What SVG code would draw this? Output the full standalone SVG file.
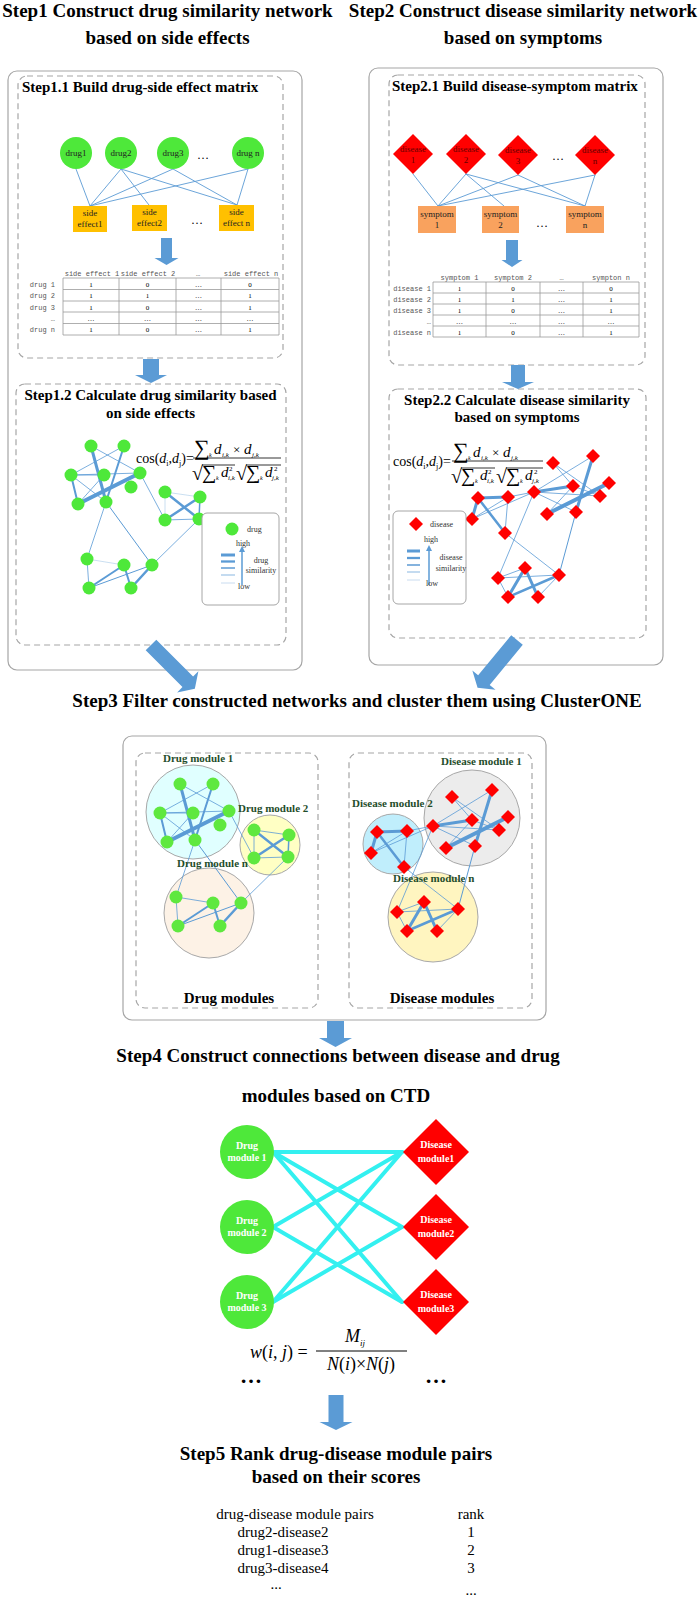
<svg xmlns="http://www.w3.org/2000/svg" width="700" height="1597" viewBox="0 0 700 1597">
<style>
text{font-family:"Liberation Serif","Times New Roman",serif;fill:#000}
.box{fill:none;stroke:#a6a6a6;stroke-width:1.2}
.dash{fill:none;stroke:#a6a6a6;stroke-width:1.2;stroke-dasharray:6 4}
.title{font-weight:bold;font-size:19px;text-anchor:middle}
.sub{font-weight:bold;font-size:15px}
.arrow{fill:#5b9bd5}
.gn{fill:#4ee83a}
.rd{fill:#ff0000}
.e{stroke:#5b9bd5;fill:none;stroke-linecap:round}
.lt{stroke:#bdd7ee}
.lbl{font-size:9px;text-anchor:middle;fill:#222}
.dl{font-size:9px;text-anchor:middle;fill:#600}
.mono{font-family:"Liberation Mono","DejaVu Sans Mono",monospace;font-size:7px;fill:#555;text-anchor:middle}
.rowl{font-family:"Liberation Mono","DejaVu Sans Mono",monospace;font-size:7px;fill:#555;text-anchor:end}
.grid{stroke:#9a9a9a;stroke-width:0.8;fill:none}
.mod{font-weight:bold;font-size:11px;fill:#1f4d2b}
.wt{font-weight:bold;font-size:10px;fill:#fff;text-anchor:middle}
.cy{stroke:#33f0f0;stroke-width:4;stroke-linecap:round}
.it{font-style:italic}
.leg{font-size:8px;fill:#333}
.tb{font-size:15px;text-anchor:middle}
.sg{font-size:22px}
.sgd{font-size:20px}
</style>
<defs>
<polygon id="diag" points="0,-7.5 52,-7.5 52,-15 62,0 52,15 52,7.5 0,7.5"/>
</defs>

<g id="titles">
<text class="title" x="167.5" y="17">Step1 Construct drug similarity network</text>
<text class="title" x="167.5" y="44">based on side effects</text>
<text class="title" x="523" y="17">Step2 Construct disease similarity network</text>
<text class="title" x="523" y="44">based on symptoms</text>
<text class="title" x="357" y="707">Step3 Filter constructed networks and cluster them using ClusterONE</text>
<text class="title" x="338" y="1062">Step4 Construct connections between disease and drug</text>
<text class="title" x="336" y="1102">modules based on CTD</text>
<text class="title" x="336" y="1460">Step5 Rank drug-disease module pairs</text>
<text class="title" x="336" y="1483">based on their scores</text>
</g>

<g id="frames">
<rect class="box" x="8" y="71" width="294" height="599" rx="9"/>
<rect class="dash" x="18" y="76" width="265" height="282" rx="9"/>
<rect class="dash" x="16" y="384" width="270" height="261" rx="9"/>
<rect class="box" x="369" y="68" width="294" height="597" rx="9"/>
<rect class="dash" x="389" y="75" width="256" height="290" rx="9"/>
<rect class="dash" x="389" y="389" width="257" height="249" rx="9"/>
<rect class="box" x="123" y="736" width="423" height="284" rx="9"/>
<rect class="dash" x="136" y="753" width="182" height="255" rx="9"/>
<rect class="dash" x="349" y="753" width="183" height="255" rx="9"/>
<text class="sub" x="22" y="92">Step1.1 Build drug-side effect matrix</text>
<text class="sub" x="150.5" y="400" text-anchor="middle">Step1.2 Calculate drug similarity based</text>
<text class="sub" x="150.5" y="418" text-anchor="middle">on side effects</text>
<text class="sub" x="392" y="91">Step2.1 Build disease-symptom matrix</text>
<text class="sub" x="517" y="405" text-anchor="middle">Step2.2 Calculate disease similarity</text>
<text class="sub" x="517" y="422" text-anchor="middle">based on symptoms</text>
<text class="sub" x="229" y="1003" text-anchor="middle">Drug modules</text>
<text class="sub" x="442" y="1003" text-anchor="middle">Disease modules</text>
</g>

<g id="connectors">
<g class="e" stroke-width="0.9">
<line x1="76" y1="169" x2="90" y2="206"/>
<line x1="121" y1="169" x2="90" y2="206"/>
<line x1="121" y1="169" x2="149" y2="205"/>
<line x1="121" y1="169" x2="237" y2="205"/>
<line x1="173" y1="169" x2="90" y2="206"/>
<line x1="173" y1="169" x2="237" y2="205"/>
<line x1="248" y1="169" x2="90" y2="206"/>
<line x1="248" y1="169" x2="237" y2="205"/>
</g>
<g class="e" stroke-width="0.9">
<line x1="413" y1="174" x2="438" y2="206"/>
<line x1="466" y1="174" x2="438" y2="206"/>
<line x1="466" y1="174" x2="504" y2="206"/>
<line x1="466" y1="174" x2="585" y2="206"/>
<line x1="518" y1="175" x2="438" y2="206"/>
<line x1="518" y1="175" x2="585" y2="206"/>
<line x1="595" y1="175" x2="438" y2="206"/>
<line x1="595" y1="175" x2="585" y2="206"/>
</g>
<g>
<line class="cy" x1="273" y1="1152" x2="402" y2="1152"/>
<line class="cy" x1="273" y1="1152" x2="402" y2="1227"/>
<line class="cy" x1="273" y1="1152" x2="402" y2="1302"/>
<line class="cy" x1="273" y1="1227" x2="402" y2="1152"/>
<line class="cy" x1="273" y1="1227" x2="402" y2="1302"/>
<line class="cy" x1="273" y1="1302" x2="402" y2="1152"/>
<line class="cy" x1="273" y1="1302" x2="402" y2="1227"/>
</g>
<polygon class="arrow" points="161,238 172,238 172,258 178.5,258 166.5,265 154.5,258 161,258"/>
<polygon class="arrow" points="143,359 159,359 159,375 167,375 151,383 135,375 143,375"/>
<polygon class="arrow" points="506,240 518,240 518,260 522.5,260 512,267 501.5,260 506,260"/>
<polygon class="arrow" points="511,365 525,365 525,382 534,382 518,389 502,382 511,382"/>
<polygon class="arrow" points="327,1021 344,1021 344,1038 352,1038 335.5,1047 319,1038 327,1038"/>
<polygon class="arrow" points="328.5,1395 343.5,1395 343.5,1422 352.5,1422 336,1430 319.5,1422 328.5,1422"/>
<use href="#diag" class="arrow" transform="translate(151,645) rotate(45)"/>
<use href="#diag" class="arrow" transform="translate(517,640) rotate(129.5)"/>
</g>

<g id="drug1"><circle class="gn" cx="76" cy="153" r="16"/><text class="lbl" x="76" y="156">drug1</text></g>
<g id="drug2"><circle class="gn" cx="121" cy="153" r="16"/><text class="lbl" x="121" y="156">drug2</text></g>
<g id="drug3"><circle class="gn" cx="173" cy="153" r="16"/><text class="lbl" x="173" y="156">drug3</text></g>
<g id="drugn"><circle class="gn" cx="248" cy="153" r="16"/><text class="lbl" x="248" y="156">drug n</text></g>
<text x="203" y="159" font-size="12" text-anchor="middle">…</text>
<g id="se1"><rect x="73" y="206" width="34" height="26" fill="#ffc000"/><text class="lbl" x="90" y="216">side</text><text class="lbl" x="90" y="227">effect1</text></g>
<g id="se2"><rect x="132" y="205" width="35" height="26" fill="#ffc000"/><text class="lbl" x="149.5" y="215">side</text><text class="lbl" x="149.5" y="226">effect2</text></g>
<g id="sen"><rect x="219" y="205" width="35" height="26" fill="#ffc000"/><text class="lbl" x="236.5" y="215">side</text><text class="lbl" x="236.5" y="226">effect n</text></g>
<text x="197" y="224" font-size="12" text-anchor="middle">…</text>

<g id="table1">
<text class="mono" x="92" y="276">side effect 1</text>
<text class="mono" x="148" y="276">side effect 2</text>
<text class="mono" x="198" y="276">…</text>
<text class="mono" x="251" y="276">side effect n</text>
<path class="grid" d="M63,278H279M63,289.5H279M63,301H279M63,312H279M63,323.5H279M63,335H279M63,278V335M119,278V335M176,278V335M221,278V335M279,278V335"/>
<text class="rowl" x="55" y="287">drug 1</text>
<text class="rowl" x="55" y="298">drug 2</text>
<text class="rowl" x="55" y="309.5">drug 3</text>
<text class="rowl" x="55" y="321">…</text>
<text class="rowl" x="55" y="332">drug n</text>
<g class="mono">
<text x="91" y="287">1</text><text x="147.5" y="287">0</text><text x="198.5" y="287">…</text><text x="250" y="287">0</text>
<text x="91" y="298">1</text><text x="147.5" y="298">1</text><text x="198.5" y="298">…</text><text x="250" y="298">1</text>
<text x="91" y="309.5">1</text><text x="147.5" y="309.5">0</text><text x="198.5" y="309.5">…</text><text x="250" y="309.5">1</text>
<text x="91" y="321">…</text><text x="147.5" y="321">…</text><text x="198.5" y="321">…</text><text x="250" y="321">…</text>
<text x="91" y="332">1</text><text x="147.5" y="332">0</text><text x="198.5" y="332">…</text><text x="250" y="332">1</text>
</g>
</g>

<g id="dis1"><polygon class="rd" points="413,134 433,154 413,174 393,154"/><text class="dl" x="413" y="152">disease</text><text class="dl" x="413" y="163">1</text></g>
<g id="dis2"><polygon class="rd" points="466,134 486,154 466,174 446,154"/><text class="dl" x="466" y="152">disease</text><text class="dl" x="466" y="163">2</text></g>
<g id="dis3"><polygon class="rd" points="518,135 538,155 518,175 498,155"/><text class="dl" x="518" y="153">disease</text><text class="dl" x="518" y="164">3</text></g>
<g id="disn"><polygon class="rd" points="595,135 615,155 595,175 575,155"/><text class="dl" x="595" y="153">disease</text><text class="dl" x="595" y="164">n</text></g>
<text x="558" y="160" font-size="12" text-anchor="middle">…</text>
<g id="sym1"><rect x="418" y="206" width="38" height="27" fill="#f9a25e"/><text class="lbl" x="437" y="217">symptom</text><text class="lbl" x="437" y="228">1</text></g>
<g id="sym2"><rect x="482" y="206" width="37" height="27" fill="#f9a25e"/><text class="lbl" x="500.5" y="217">symptom</text><text class="lbl" x="500.5" y="228">2</text></g>
<g id="symn"><rect x="566" y="206" width="38" height="27" fill="#f9a25e"/><text class="lbl" x="585" y="217">symptom</text><text class="lbl" x="585" y="228">n</text></g>
<text x="542" y="227" font-size="12" text-anchor="middle">…</text>

<g id="table2">
<text class="mono" x="459.5" y="280">symptom 1</text>
<text class="mono" x="513" y="280">symptom 2</text>
<text class="mono" x="561.5" y="280">…</text>
<text class="mono" x="611" y="280">sympton n</text>
<path class="grid" d="M433,282H639M433,293H639M433,304H639M433,315H639M433,326H639M433,337H639M433,282V337M486,282V337M540,282V337M583,282V337M639,282V337"/>
<text class="rowl" x="431" y="290.5">disease 1</text>
<text class="rowl" x="431" y="301.5">disease 2</text>
<text class="rowl" x="431" y="312.5">disease 3</text>
<text class="rowl" x="431" y="323.5">…</text>
<text class="rowl" x="431" y="334.5">disease n</text>
<g class="mono">
<text x="459.5" y="290.5">1</text><text x="513" y="290.5">0</text><text x="561.5" y="290.5">…</text><text x="611" y="290.5">0</text>
<text x="459.5" y="301.5">1</text><text x="513" y="301.5">1</text><text x="561.5" y="301.5">…</text><text x="611" y="301.5">1</text>
<text x="459.5" y="312.5">1</text><text x="513" y="312.5">0</text><text x="561.5" y="312.5">…</text><text x="611" y="312.5">1</text>
<text x="459.5" y="323.5">…</text><text x="513" y="323.5">…</text><text x="561.5" y="323.5">…</text><text x="611" y="323.5">…</text>
<text x="459.5" y="334.5">1</text><text x="513" y="334.5">0</text><text x="561.5" y="334.5">…</text><text x="611" y="334.5">1</text>
</g>
</g>

<g id="formula1" transform="translate(136,458)">
<text x="0" y="5" font-size="14">cos(<tspan class="it">d</tspan><tspan font-size="8" dy="3">i</tspan><tspan dy="-3">,</tspan><tspan class="it">d</tspan><tspan font-size="8" dy="3">j</tspan><tspan dy="-3">)=</tspan></text>
<line x1="57" y1="0" x2="145" y2="0" stroke="#000" stroke-width="0.8"/>
<text x="58" y="-3" class="sg">∑</text><text x="73" y="-1" font-size="6" class="it">k</text>
<text x="78" y="-4" font-size="15" class="it">d</text><text x="86" y="-1" font-size="7" class="it">i,k</text>
<text x="97" y="-4" font-size="13">×</text>
<text x="108" y="-4" font-size="15" class="it">d</text><text x="116" y="-1" font-size="7" class="it">j,k</text>
<text x="56" y="22" font-size="20">√</text><line x1="66" y1="7" x2="99" y2="7" stroke="#000" stroke-width="0.8"/>
<text x="66" y="21" class="sgd">∑</text><text x="80" y="22" font-size="6" class="it">k</text>
<text x="85" y="19" font-size="15" class="it">d</text><text x="92" y="22" font-size="7" class="it">i,k</text><text x="93" y="13" font-size="7">2</text>
<text x="100" y="22" font-size="20">√</text><line x1="110" y1="7" x2="145" y2="7" stroke="#000" stroke-width="0.8"/>
<text x="110" y="21" class="sgd">∑</text><text x="124" y="22" font-size="6" class="it">k</text>
<text x="129" y="19" font-size="15" class="it">d</text><text x="136" y="22" font-size="7" class="it">j,k</text><text x="138" y="13" font-size="7">2</text>
</g>
<g id="formula2" transform="translate(393,461)">
<text x="0" y="5" font-size="14">cos(<tspan class="it">d</tspan><tspan font-size="8" dy="3">i</tspan><tspan dy="-3">,</tspan><tspan class="it">d</tspan><tspan font-size="8" dy="3">j</tspan><tspan dy="-3">)=</tspan></text>
<line x1="59" y1="0" x2="150" y2="0" stroke="#000" stroke-width="0.8"/>
<text x="60" y="-3" class="sg">∑</text><text x="75" y="-1" font-size="6" class="it">k</text>
<text x="80" y="-4" font-size="15" class="it">d</text><text x="88" y="-1" font-size="7" class="it">i,k</text>
<text x="99" y="-4" font-size="13">×</text>
<text x="110" y="-4" font-size="15" class="it">d</text><text x="118" y="-1" font-size="7" class="it">j,k</text>
<text x="58" y="22" font-size="20">√</text><line x1="68" y1="7" x2="102" y2="7" stroke="#000" stroke-width="0.8"/>
<text x="68" y="21" class="sgd">∑</text><text x="82" y="22" font-size="6" class="it">k</text>
<text x="87" y="19" font-size="15" class="it">d</text><text x="94" y="22" font-size="7" class="it">i,k</text><text x="95" y="13" font-size="7">2</text>
<text x="103" y="22" font-size="20">√</text><line x1="113" y1="7" x2="150" y2="7" stroke="#000" stroke-width="0.8"/>
<text x="113" y="21" class="sgd">∑</text><text x="127" y="22" font-size="6" class="it">k</text>
<text x="132" y="19" font-size="15" class="it">d</text><text x="139" y="22" font-size="7" class="it">j,k</text><text x="141" y="13" font-size="7">2</text>
</g>

<g id="drugnet">
<g class="e">
<line x1="91" y1="446" x2="106" y2="502" stroke-width="3"/>
<line x1="124" y1="446" x2="106" y2="502" stroke-width="2"/>
<line x1="78" y1="504" x2="140" y2="473" stroke-width="4"/>
<line x1="71" y1="475" x2="78" y2="504" stroke-width="2"/>
<line x1="91" y1="446" x2="140" y2="473" stroke-width="0.8"/>
<line x1="124" y1="446" x2="71" y2="475" stroke-width="0.8"/>
<line x1="71" y1="475" x2="104" y2="475" stroke-width="0.8"/>
<line x1="71" y1="475" x2="140" y2="473" stroke-width="0.8"/>
<line x1="71" y1="475" x2="106" y2="502" stroke-width="0.8"/>
<line x1="104" y1="475" x2="78" y2="504" stroke-width="0.8"/>
<line x1="140" y1="473" x2="165" y2="520" stroke-width="0.8"/>
<line x1="106" y1="502" x2="87" y2="559" stroke-width="0.8"/>
<line x1="106" y1="502" x2="152" y2="565" stroke-width="1"/>
<line x1="199" y1="519" x2="152" y2="565" stroke-width="0.8"/>
<line class="lt" x1="165" y1="492" x2="200" y2="497" stroke-width="0.8"/>
<line class="lt" x1="165" y1="492" x2="165" y2="520" stroke-width="0.8"/>
<line x1="165" y1="520" x2="200" y2="497" stroke-width="2.5"/>
<line x1="165" y1="492" x2="199" y2="519" stroke-width="2.5"/>
<line x1="200" y1="497" x2="199" y2="519" stroke-width="1.5"/>
<line x1="165" y1="520" x2="199" y2="519" stroke-width="0.8"/>
<line x1="87" y1="559" x2="89" y2="588" stroke-width="0.8"/>
<line class="lt" x1="87" y1="559" x2="124" y2="565" stroke-width="0.8"/>
<line x1="89" y1="588" x2="124" y2="565" stroke-width="2"/>
<line x1="124" y1="565" x2="131" y2="588" stroke-width="2"/>
<line x1="131" y1="588" x2="152" y2="565" stroke-width="2.5"/>
<line x1="89" y1="588" x2="152" y2="565" stroke-width="1"/>
</g>
<g class="gn">
<circle cx="91" cy="446" r="6.5"/><circle cx="124" cy="446" r="6.5"/><circle cx="71" cy="475" r="6.5"/><circle cx="104" cy="475" r="6.5"/><circle cx="140" cy="473" r="6.5"/><circle cx="131" cy="487" r="6.5"/><circle cx="78" cy="504" r="6.5"/><circle cx="106" cy="502" r="6.5"/><circle cx="165" cy="492" r="6.5"/><circle cx="200" cy="497" r="6.5"/><circle cx="165" cy="520" r="6.5"/><circle cx="199" cy="519" r="6.5"/><circle cx="87" cy="559" r="6.5"/><circle cx="124" cy="565" r="6.5"/><circle cx="152" cy="565" r="6.5"/><circle cx="89" cy="588" r="6.5"/><circle cx="131" cy="588" r="6.5"/>
</g>
</g>
<g id="druglegend">
<rect x="202" y="513" width="77" height="92" rx="5" fill="#fff" stroke="#a6a6a6"/>
<circle class="gn" cx="232" cy="529" r="6.5"/>
<text class="leg" x="247" y="532">drug</text>
<text class="leg" x="243" y="546" text-anchor="middle">high</text>
<line x1="221" y1="555" x2="235" y2="555" stroke="#5b9bd5" stroke-width="3"/>
<line x1="221" y1="561.5" x2="235" y2="561.5" stroke="#5b9bd5" stroke-width="2.3"/>
<line x1="221" y1="568" x2="235" y2="568" stroke="#6fa6d9" stroke-width="1.7"/>
<line x1="221" y1="575" x2="235" y2="575" stroke="#9dc3e6" stroke-width="1.2"/>
<line x1="221" y1="583" x2="235" y2="583" stroke="#c9dcf0" stroke-width="1"/>
<line x1="242" y1="585" x2="242" y2="551" stroke="#5b9bd5" stroke-width="1.5"/>
<polygon points="239,552 245,552 242,546" fill="#5b9bd5"/>
<text class="leg" x="261" y="563" text-anchor="middle">drug</text>
<text class="leg" x="261" y="573" text-anchor="middle">similarity</text>
<text class="leg" x="244" y="589" text-anchor="middle">low</text>
</g>

<g id="disnet">
<g class="e">
<line x1="593" y1="456" x2="576" y2="512" stroke-width="3"/>
<line x1="609" y1="483" x2="547" y2="514" stroke-width="4"/>
<line x1="534" y1="492" x2="573" y2="486" stroke-width="3"/>
<line x1="553" y1="463" x2="573" y2="486" stroke-width="0.8"/>
<line x1="553" y1="463" x2="600" y2="496" stroke-width="0.8"/>
<line x1="593" y1="456" x2="534" y2="492" stroke-width="0.8"/>
<line x1="534" y1="492" x2="600" y2="496" stroke-width="0.8"/>
<line x1="573" y1="486" x2="600" y2="496" stroke-width="0.8"/>
<line x1="534" y1="492" x2="576" y2="512" stroke-width="0.8"/>
<line x1="573" y1="486" x2="547" y2="514" stroke-width="0.8"/>
<line x1="478" y1="498" x2="508" y2="497" stroke-width="3"/>
<line x1="478" y1="498" x2="472" y2="519" stroke-width="3"/>
<line x1="478" y1="498" x2="505" y2="533" stroke-width="2.5"/>
<line x1="508" y1="497" x2="472" y2="519" stroke-width="0.8"/>
<line x1="508" y1="497" x2="505" y2="533" stroke-width="0.8"/>
<line x1="472" y1="519" x2="534" y2="492" stroke-width="0.8"/>
<line x1="508" y1="497" x2="534" y2="492" stroke-width="0.8"/>
<line x1="534" y1="492" x2="498" y2="578" stroke-width="0.8"/>
<line x1="505" y1="533" x2="559" y2="575" stroke-width="0.8"/>
<line x1="576" y1="512" x2="559" y2="575" stroke-width="1"/>
<line x1="508" y1="597" x2="525" y2="568" stroke-width="3"/>
<line x1="525" y1="568" x2="538" y2="597" stroke-width="3"/>
<line x1="508" y1="597" x2="559" y2="575" stroke-width="2.5"/>
<line x1="498" y1="578" x2="508" y2="597" stroke-width="0.8"/>
<line x1="498" y1="578" x2="525" y2="568" stroke-width="0.8"/>
<line x1="538" y1="597" x2="559" y2="575" stroke-width="0.8"/>
<line x1="498" y1="578" x2="559" y2="575" stroke-width="0.8"/>
</g>
<g class="rd">
<polygon points="553,456 560,463 553,470 546,463"/><polygon points="593,449 600,456 593,463 586,456"/><polygon points="534,485 541,492 534,499 527,492"/><polygon points="573,479 580,486 573,493 566,486"/><polygon points="609,476 616,483 609,490 602,483"/><polygon points="600,489 607,496 600,503 593,496"/><polygon points="547,507 554,514 547,521 540,514"/><polygon points="576,505 583,512 576,519 569,512"/><polygon points="478,491 485,498 478,505 471,498"/><polygon points="508,490 515,497 508,504 501,497"/><polygon points="472,512 479,519 472,526 465,519"/><polygon points="505,526 512,533 505,540 498,533"/><polygon points="498,571 505,578 498,585 491,578"/><polygon points="525,561 532,568 525,575 518,568"/><polygon points="559,568 566,575 559,582 552,575"/><polygon points="508,590 515,597 508,604 501,597"/><polygon points="538,590 545,597 538,604 531,597"/>
</g>
</g>
<g id="dislegend">
<rect x="393" y="511" width="73" height="93" rx="5" fill="#fff" stroke="#a6a6a6"/>
<polygon class="rd" points="416,517 423,524 416,531 409,524"/>
<text class="leg" x="430" y="527">disease</text>
<text class="leg" x="431" y="542" text-anchor="middle">high</text>
<line x1="407" y1="551" x2="420" y2="551" stroke="#5b9bd5" stroke-width="3"/>
<line x1="407" y1="558" x2="420" y2="558" stroke="#5b9bd5" stroke-width="2.3"/>
<line x1="407" y1="565" x2="420" y2="565" stroke="#6fa6d9" stroke-width="1.7"/>
<line x1="407" y1="572" x2="420" y2="572" stroke="#9dc3e6" stroke-width="1.2"/>
<line x1="407" y1="580" x2="420" y2="580" stroke="#c9dcf0" stroke-width="1"/>
<line x1="429" y1="585" x2="429" y2="550" stroke="#5b9bd5" stroke-width="1.5"/>
<polygon points="426,551 432,551 429,545" fill="#5b9bd5"/>
<text class="leg" x="451" y="560" text-anchor="middle">disease</text>
<text class="leg" x="451" y="571" text-anchor="middle">similarity</text>
<text class="leg" x="432" y="586" text-anchor="middle">low</text>
</g>

<g id="drugmodules">
<circle cx="209" cy="913" r="45" fill="#fdf2e6" stroke="#a8a8a8"/>
<circle cx="193" cy="812" r="47" fill="#e0ffff" stroke="#a8a8a8"/>
<circle cx="270" cy="845" r="30" fill="#ffffc4" stroke="#a8a8a8"/>
<g transform="translate(89,338)">
<g class="e">
<line x1="91" y1="446" x2="106" y2="502" stroke-width="3"/>
<line x1="124" y1="446" x2="106" y2="502" stroke-width="2"/>
<line x1="78" y1="504" x2="140" y2="473" stroke-width="4"/>
<line x1="71" y1="475" x2="78" y2="504" stroke-width="2"/>
<line x1="91" y1="446" x2="140" y2="473" stroke-width="0.8"/>
<line x1="124" y1="446" x2="71" y2="475" stroke-width="0.8"/>
<line x1="71" y1="475" x2="104" y2="475" stroke-width="0.8"/>
<line x1="71" y1="475" x2="140" y2="473" stroke-width="0.8"/>
<line x1="71" y1="475" x2="106" y2="502" stroke-width="0.8"/>
<line x1="104" y1="475" x2="78" y2="504" stroke-width="0.8"/>
<line x1="140" y1="473" x2="165" y2="520" stroke-width="0.8"/>
<line x1="106" y1="502" x2="87" y2="559" stroke-width="0.8"/>
<line x1="106" y1="502" x2="152" y2="565" stroke-width="1"/>
<line x1="199" y1="519" x2="152" y2="565" stroke-width="0.8"/>
</g>
<g class="e" stroke="#7fa88f">
<line x1="165" y1="492" x2="200" y2="497" stroke-width="0.8"/>
<line x1="165" y1="492" x2="165" y2="520" stroke-width="0.8"/>
<line x1="165" y1="520" x2="200" y2="497" stroke-width="2.5"/>
<line x1="165" y1="492" x2="199" y2="519" stroke-width="2.5"/>
<line x1="200" y1="497" x2="199" y2="519" stroke-width="1.5"/>
<line x1="165" y1="520" x2="199" y2="519" stroke-width="0.8"/>
</g>
<g class="e" stroke="#8aa0cc">
<line x1="87" y1="559" x2="89" y2="588" stroke-width="0.8"/>
<line x1="87" y1="559" x2="124" y2="565" stroke-width="0.8"/>
<line x1="89" y1="588" x2="124" y2="565" stroke-width="2"/>
<line x1="124" y1="565" x2="131" y2="588" stroke-width="2"/>
<line x1="131" y1="588" x2="152" y2="565" stroke-width="2.5"/>
<line x1="89" y1="588" x2="152" y2="565" stroke-width="1"/>
</g>
<g fill="#5fe83f">
<circle cx="91" cy="446" r="6.5"/><circle cx="124" cy="446" r="6.5"/><circle cx="71" cy="475" r="6.5"/><circle cx="104" cy="475" r="6.5"/><circle cx="140" cy="473" r="6.5"/><circle cx="131" cy="487" r="6.5"/><circle cx="78" cy="504" r="6.5"/><circle cx="106" cy="502" r="6.5"/><circle cx="165" cy="492" r="6.5"/><circle cx="200" cy="497" r="6.5"/><circle cx="165" cy="520" r="6.5"/><circle cx="199" cy="519" r="6.5"/><circle cx="87" cy="559" r="6.5"/><circle cx="124" cy="565" r="6.5"/><circle cx="152" cy="565" r="6.5"/><circle cx="89" cy="588" r="6.5"/><circle cx="131" cy="588" r="6.5"/>
</g>
</g>
<text class="mod" x="163" y="762">Drug module 1</text>
<text class="mod" x="238" y="812">Drug module 2</text>
<text class="mod" x="177" y="867">Drug module n</text>
</g>

<g id="diseasemodules">
<circle cx="472" cy="818" r="48" fill="#ececec" stroke="#a8a8a8"/>
<circle cx="393" cy="844" r="30" fill="#c0eefc" stroke="#a8a8a8"/>
<circle cx="433" cy="917" r="45" fill="#fff5c0" stroke="#a8a8a8"/>
<g transform="translate(-101,334)">
<g class="e" stroke="#6a97cf">
<line x1="593" y1="456" x2="576" y2="512" stroke-width="3"/>
<line x1="609" y1="483" x2="547" y2="514" stroke-width="4"/>
<line x1="534" y1="492" x2="573" y2="486" stroke-width="3"/>
<line x1="553" y1="463" x2="573" y2="486" stroke-width="0.8"/>
<line x1="553" y1="463" x2="600" y2="496" stroke-width="0.8"/>
<line x1="593" y1="456" x2="534" y2="492" stroke-width="0.8"/>
<line x1="534" y1="492" x2="600" y2="496" stroke-width="0.8"/>
<line x1="573" y1="486" x2="600" y2="496" stroke-width="0.8"/>
<line x1="534" y1="492" x2="576" y2="512" stroke-width="0.8"/>
<line x1="573" y1="486" x2="547" y2="514" stroke-width="0.8"/>
<line x1="472" y1="519" x2="534" y2="492" stroke-width="0.8"/>
<line x1="508" y1="497" x2="534" y2="492" stroke-width="0.8"/>
<line x1="534" y1="492" x2="498" y2="578" stroke-width="0.8"/>
<line x1="505" y1="533" x2="559" y2="575" stroke-width="0.8"/>
<line x1="576" y1="512" x2="559" y2="575" stroke-width="1"/>
</g>
<g class="e" stroke="#3e97d8">
<line x1="478" y1="498" x2="508" y2="497" stroke-width="3"/>
<line x1="478" y1="498" x2="472" y2="519" stroke-width="3"/>
<line x1="478" y1="498" x2="505" y2="533" stroke-width="2.5"/>
<line x1="508" y1="497" x2="472" y2="519" stroke-width="0.8"/>
<line x1="508" y1="497" x2="505" y2="533" stroke-width="0.8"/>
</g>
<g class="e" stroke="#7a9f8a">
<line x1="508" y1="597" x2="525" y2="568" stroke-width="3"/>
<line x1="525" y1="568" x2="538" y2="597" stroke-width="3"/>
<line x1="508" y1="597" x2="559" y2="575" stroke-width="2.5"/>
<line x1="498" y1="578" x2="508" y2="597" stroke-width="0.8"/>
<line x1="498" y1="578" x2="525" y2="568" stroke-width="0.8"/>
<line x1="538" y1="597" x2="559" y2="575" stroke-width="0.8"/>
<line x1="498" y1="578" x2="559" y2="575" stroke-width="0.8"/>
</g>
<g class="rd">
<polygon points="553,456 560,463 553,470 546,463"/><polygon points="593,449 600,456 593,463 586,456"/><polygon points="534,485 541,492 534,499 527,492"/><polygon points="573,479 580,486 573,493 566,486"/><polygon points="609,476 616,483 609,490 602,483"/><polygon points="600,489 607,496 600,503 593,496"/><polygon points="547,507 554,514 547,521 540,514"/><polygon points="576,505 583,512 576,519 569,512"/><polygon points="478,491 485,498 478,505 471,498"/><polygon points="508,490 515,497 508,504 501,497"/><polygon points="472,512 479,519 472,526 465,519"/><polygon points="505,526 512,533 505,540 498,533"/><polygon points="498,571 505,578 498,585 491,578"/><polygon points="525,561 532,568 525,575 518,568"/><polygon points="559,568 566,575 559,582 552,575"/><polygon points="508,590 515,597 508,604 501,597"/><polygon points="538,590 545,597 538,604 531,597"/>
</g>
</g>
<text class="mod" x="441" y="765">Disease module 1</text>
<text class="mod" x="352" y="807">Disease module 2</text>
<text class="mod" x="393" y="882">Disease module n</text>
</g>

<g id="dm1"><circle class="gn" cx="247" cy="1152" r="27"/><text class="wt" x="247" y="1149">Drug</text><text class="wt" x="247" y="1161">module 1</text></g>
<g id="dm2"><circle class="gn" cx="247" cy="1227" r="27"/><text class="wt" x="247" y="1224">Drug</text><text class="wt" x="247" y="1236">module 2</text></g>
<g id="dm3"><circle class="gn" cx="247" cy="1302" r="27"/><text class="wt" x="247" y="1299">Drug</text><text class="wt" x="247" y="1311">module 3</text></g>
<g id="sm1"><polygon class="rd" points="436,1119 469,1152 436,1185 403,1152"/><text class="wt" x="436" y="1148" font-size="10.5">Disease</text><text class="wt" x="436" y="1162" font-size="10.5">module1</text></g>
<g id="sm2"><polygon class="rd" points="436,1194 469,1227 436,1260 403,1227"/><text class="wt" x="436" y="1223" font-size="10.5">Disease</text><text class="wt" x="436" y="1237" font-size="10.5">module2</text></g>
<g id="sm3"><polygon class="rd" points="436,1269 469,1302 436,1335 403,1302"/><text class="wt" x="436" y="1298" font-size="10.5">Disease</text><text class="wt" x="436" y="1312" font-size="10.5">module3</text></g>

<g id="formula3">
<text x="250" y="1358" font-size="18"><tspan class="it">w</tspan>(<tspan class="it">i</tspan>, <tspan class="it">j</tspan>) =</text>
<line x1="316" y1="1351" x2="407" y2="1351" stroke="#000" stroke-width="1"/>
<text x="355" y="1342" font-size="18" text-anchor="middle" class="it">M<tspan font-size="9" dy="4">ij</tspan></text>
<text x="361" y="1370" font-size="18" text-anchor="middle"><tspan class="it">N</tspan>(<tspan class="it">i</tspan>)×<tspan class="it">N</tspan>(<tspan class="it">j</tspan>)</text>
<text x="251" y="1383" font-size="22" font-weight="bold" text-anchor="middle">…</text>
<text x="436" y="1383" font-size="22" font-weight="bold" text-anchor="middle">…</text>
</g>

<g id="ranktable">
<text class="tb" x="295" y="1519">drug-disease module pairs</text>
<text class="tb" x="471" y="1519">rank</text>
<text class="tb" x="283" y="1537">drug2-disease2</text>
<text class="tb" x="471" y="1537">1</text>
<text class="tb" x="283" y="1555">drug1-disease3</text>
<text class="tb" x="471" y="1555">2</text>
<text class="tb" x="283" y="1573">drug3-disease4</text>
<text class="tb" x="471" y="1573">3</text>
<text class="tb" x="276" y="1589">...</text>
<text class="tb" x="471" y="1595" font-size="11" fill="#666">...</text>
</g>
</svg>
